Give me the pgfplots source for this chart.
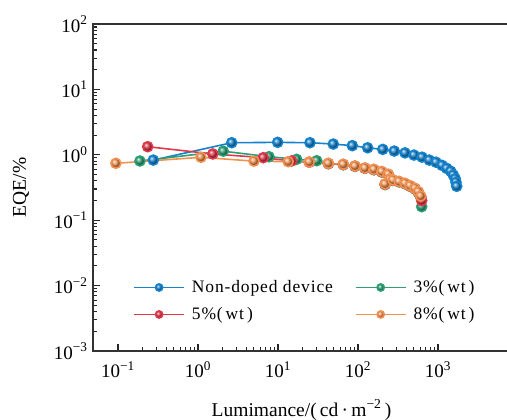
\documentclass[border=0pt]{standalone}
\usepackage{pgfplots}
\pgfplotsset{compat=1.18}
\usepackage{fontspec}
\setmainfont{Liberation Serif}
\definecolor{cblue}{RGB}{20,130,205}
\definecolor{cred}{RGB}{225,55,75}
\definecolor{cgreen}{RGB}{45,160,115}
\definecolor{corange}{RGB}{242,145,80}
\begin{document}
\fontsize{19bp}{22bp}\selectfont
\begin{tikzpicture}
\begin{axis}[
  scale only axis,
  width=417bp, height=327bp,
  xmode=log, ymode=log,
  xmin=0.0487, xmax=7943,
  ymin=1e-3, ymax=100,
  axis line style={line width=1.6bp, black!80},
  tick style={black!85, line width=1.1bp},
  tick align=inside,
  major tick length=7bp, minor tick length=4bp,
  xtick pos=bottom, ytick pos=left,
  xtick={0.1,1,10,100,1000},
  xticklabels={10\textsuperscript{−1},10\textsuperscript{0},10\textsuperscript{1},10\textsuperscript{2},10\textsuperscript{3}},
  ytick={0.001,0.01,0.1,1,10,100},
  yticklabels={10\textsuperscript{−3},10\textsuperscript{−2},10\textsuperscript{−1},10\textsuperscript{0},10\textsuperscript{1},10\textsuperscript{2}},
  ticklabel style={font=\fontsize{19bp}{22bp}\selectfont},
  xticklabel style={yshift=-4bp},
  yticklabel style={xshift=1bp},
  xlabel={Lumimance/(\,cd\,·\,m\textsuperscript{−2}\,)},
  ylabel={EQE/\%},
  label style={font=\fontsize{19.5bp}{22bp}\selectfont},
  ylabel style={yshift=12bp},
  xlabel style={yshift=-9bp},
  every axis plot/.append style={line width=1.6bp, mark=ball, mark size=5bp},
  legend columns=2,
  legend cell align=left,
  legend style={draw=none, fill=none, at={(rel axis cs:0.089,0.23)}, anchor=north west,
    font=\fontsize{17.5bp}{21bp}\selectfont\addfontfeatures{LetterSpace=5},
    row sep=8bp,
    /tikz/every even column/.append style={column sep=20bp}},
  legend image code/.code={\draw[mark repeat=2,mark phase=2,mark size=3.6bp,#1] plot coordinates {(0bp,0bp) (25bp,0bp) (50bp,0bp)};\path (55bp,0bp);},
]
\addplot[color=cblue, mark options={ball color=cblue}] coordinates {
(0.276,0.83) (2.64,1.53) (9.9,1.55) (25.1,1.53) (49.1,1.46) (84.9,1.38) (132,1.28)
(204,1.21) (284,1.14) (387,1.07) (501,0.99) (631,0.92) (778,0.83) (944,0.77)
(1122,0.69) (1285,0.62) (1442,0.56) (1553,0.49) (1645,0.43) (1679,0.38) (1714,0.33)
};
\addlegendentry{Non-doped device}
\addplot[color=cgreen, mark options={ball color=cgreen}] coordinates {
(0.188,0.804) (2.07,1.135) (7.72,0.935) (17.1,0.853) (30.5,0.812) (42.6,0.73)
(65.5,0.705) (91.7,0.665) (122,0.62) (158,0.59) (198,0.545) (239,0.495) (251,0.42)
(218,0.35) (274,0.405) (325,0.385) (387,0.36) (447,0.33) (516,0.30) (567,0.265)
(608,0.225) (625,0.161)
};
\addlegendentry{3\%(\,wt\,)}
\addplot[color=cred, mark options={ball color=cred}] coordinates {
(0.235,1.33) (1.53,1.03) (6.55,0.904) (14.8,0.804) (24.6,0.77) (42.6,0.735)
(65.5,0.71) (91.7,0.67) (122,0.625) (158,0.595) (198,0.55) (239,0.50) (251,0.425)
(218,0.355) (274,0.41) (325,0.39) (387,0.363) (447,0.334) (516,0.304) (567,0.27)
(608,0.23) (625,0.199)
};
\addlegendentry{5\%(\,wt\,)}
\addplot[color=corange, mark options={ball color=corange}] coordinates {
(0.094,0.741) (1.09,0.916) (5.01,0.80) (13.4,0.785) (24.6,0.776) (42.6,0.741)
(65.5,0.716) (91.7,0.674) (122,0.628) (158,0.600) (198,0.556) (239,0.503) (251,0.427)
(218,0.358) (274,0.412) (325,0.391) (387,0.366) (447,0.337) (516,0.307) (567,0.273)
(608,0.234)
};
\addlegendentry{8\%(\,wt\,)}
\end{axis}
\pgfresetboundingbox
\path (current axis.south west) ++(-93bp,-69bp) rectangle ++(507bp,420bp);
\end{tikzpicture}
\end{document}
